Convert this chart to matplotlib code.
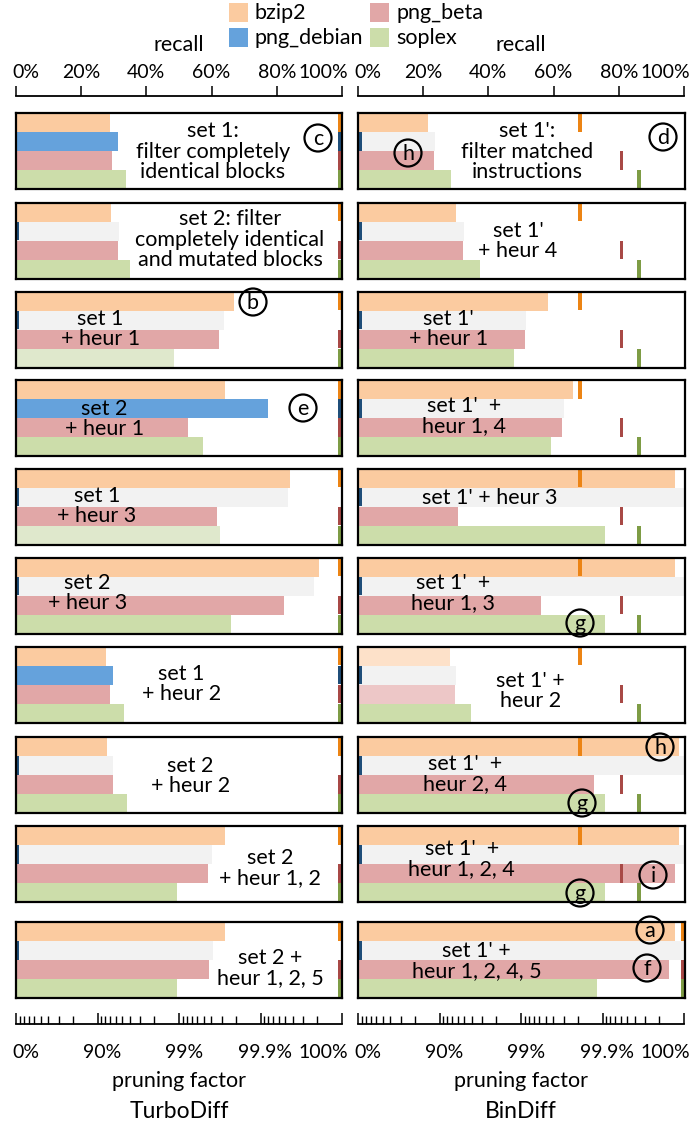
import numpy as np
import matplotlib
matplotlib.use('Agg')
import matplotlib.pyplot as plt
from matplotlib.patches import Ellipse, Rectangle
from matplotlib.transforms import blended_transform_factory

plt.rcParams['font.family'] = ['Lato', 'DejaVu Sans']
plt.rcParams['font.size'] = 15.5

programs = ['bzip2', 'png_debian', 'png_beta', 'soplex']

# ---- TurboDiff (left column) ----
turbo_labels = [
    "set 1:\nfilter completely\nidentical blocks",
    "set 2: filter\ncompletely identical\nand mutated blocks",
    "set 1\n+ heur 1",
    "set 2\n+ heur 1",
    "set 1\n+ heur 3",
    "set 2\n+ heur 3",
    "set 1\n+ heur 2",
    "set 2\n+ heur 2",
    "set 2\n+ heur 1, 2",
    "set 2 +\nheur 1, 2, 5",
]
# recall in %, order: bzip2, png_debian, png_beta, soplex
turbo_recall = [
    [29.0, 31.3, 29.7, 33.7],
    [29.4, 31.6, 31.3, 35.0],
    [66.9, 63.8, 62.3, 48.5],
    [64.1, 77.3, 52.8, 57.4],
    [84.0, 83.4, 61.7, 62.6],
    [92.9, 91.4, 82.2, 66.0],
    [27.6, 29.8, 28.8, 33.1],
    [27.9, 30.0, 29.8, 34.0],
    [64.1, 60.1, 58.9, 49.4],
    [64.1, 60.4, 59.2, 49.4],
]
# pruning factor in %
turbo_pruning = [
    [100, 100, 100, 100],
    [100, 0, 100, 100],
    [100, 0, 100, 100],
    [100, 100, 100, 100],
    [100, 0, 100, 100],
    [100, 0, 100, 100],
    [100, 100, 100, 100],
    [100, 0, 100, 100],
    [100, 0, 100, 100],
    [100, 0, 100, 100],
]
turbo_pale = [[], [], [3], [], [3], [], [], [], [], []]

# ---- BinDiff (right column) ----
bin_labels = [
    "set 1':\nfilter matched\ninstructions",
    "set 1'\n+ heur 4",
    "set 1'\n+ heur 1",
    "set 1'  +\nheur 1, 4",
    "set 1' + heur 3",
    "set 1'  +\nheur 1, 3",
    "set 1' +\nheur 2",
    "set 1'  +\nheur 2, 4",
    "set 1'  +\nheur 1, 2, 4",
    "set 1' +\nheur 1, 2, 4, 5",
]
bin_recall = [
    [21.5, 23.6, 23.3, 28.5],
    [30.0, 32.5, 32.2, 37.4],
    [58.2, 51.4, 51.2, 47.9],
    [66.0, 63.2, 62.6, 59.2],
    [97.2, 100.0, 30.7, 75.8],
    [97.2, 100.0, 56.1, 75.8],
    [28.2, 30.0, 29.8, 34.6],
    [98.2, 100.0, 72.4, 75.8],
    [98.2, 100.0, 97.2, 75.8],
    [97.2, 100.0, 95.4, 73.3],
]
bin_pruning = [[99.81, 0, 99.941, 99.964]] * 9 + [[100, 0, 100, 100]]
bin_pale = [[], [], [], [], [], [], [0, 2], [], [], []]

W, H = 692, 1122
fig = plt.figure(figsize=(W / 100, H / 100), dpi=100)

colors = ['#FBCBA0', '#65A2DC', '#E1A7A7', '#CCDDAA']
pale_colors = ['#FDE1C9', '#F2F2F2', '#EDC7C7', '#DFE8CC']
mark_colors = ['#EC8414', '#1F4E79', '#A84946', '#7E9C45']
tick_fs = 14


def px_axes(x, y, w, h):
    return fig.add_axes([x / W, 1 - (y + h) / H, w / W, h / H])


def decades(p):
    # pruning factor (%) -> position on log scale (0 .. 1 for 0% .. 99.99%)
    if p >= 100:
        return 1.0
    return min(-np.log10(1 - p / 100.0) / 4.0, 1.0)


def draw_panel(ax, recall, pruning, pale, label, lx, ly):
    ys = [3, 2, 1, 0]
    mw = 0.011
    for k in range(4):
        c = colors[k]
        if pruning[k] == 0:
            c = '#F2F2F2'
        elif k in pale:
            c = pale_colors[k]
        ax.barh(ys[k], recall[k] / 100.0, height=1.0, color=c, zorder=1)
        pos = decades(pruning[k])
        left = min(max(pos - mw / 2, 0), 1 - mw)
        ax.barh(ys[k], mw, left=left, height=0.96, color=mark_colors[k], zorder=2)
    ax.set_xlim(0, 1)
    ax.set_ylim(-0.5, 3.5)
    ax.set_xticks([])
    ax.set_yticks([])
    for s in ax.spines.values():
        s.set_linewidth(1.6)
        s.set_zorder(4)
    ax.text(lx, ly, label, transform=ax.transAxes, ha='center', va='center',
            zorder=3, linespacing=1.02)


tops = [113, 202.5, 291.5, 380, 468.5, 557.5, 646.5, 737, 826, 922]
turbo_text_pos = [(0.605, 0.49), (0.657, 0.51), (0.26, 0.51), (0.273, 0.49), (0.249, 0.51),
                  (0.22, 0.53), (0.508, 0.51), (0.535, 0.49), (0.78, 0.443), (0.78, 0.39)]
bin_text_pos = [(0.517, 0.49), (0.49, 0.49), (0.276, 0.51), (0.326, 0.53), (0.404, 0.61),
                (0.29, 0.53), (0.528, 0.415), (0.327, 0.51), (0.318, 0.57), (0.364, 0.49)]

for i in range(10):
    ax = px_axes(15.5, tops[i], 326.5, 76)
    draw_panel(ax, turbo_recall[i], turbo_pruning[i], turbo_pale[i], turbo_labels[i], *turbo_text_pos[i])
    ax = px_axes(358, tops[i], 326.5, 76)
    draw_panel(ax, bin_recall[i], bin_pruning[i], bin_pale[i], bin_labels[i], *bin_text_pos[i])

# ---- top recall axes and bottom pruning-factor axes ----
for x0, name in [(16, 'TurboDiff'), (358, 'BinDiff')]:
    ta = px_axes(x0, 96, 326, 1)
    for side in ['left', 'right', 'bottom']:
        ta.spines[side].set_visible(False)
    ta.spines['top'].set_linewidth(1.3)
    ta.set_xlim(0, 1)
    ta.set_yticks([])
    ta.xaxis.tick_top()
    ta.set_xticks(np.linspace(0, 1, 6))
    ta.set_xticklabels([])
    ta.tick_params(axis='x', direction='out', length=7.5, width=1.1)
    tr = blended_transform_factory(ta.transData, fig.transFigure)
    for k, v in enumerate(range(0, 101, 20)):
        ha = 'left' if k == 0 else ('right' if k == 5 else 'center')
        xx = -0.01 if k == 0 else (1.02 if k == 5 else v / 100)
        ta.text(xx, 1 - 73 / H, f'{v}%', transform=tr, ha=ha, va='center', fontsize=tick_fs)
    fig.text((x0 + 163) / W, 1 - 45 / H, 'recall', ha='center', va='center')

    ba = px_axes(x0, 1014, 326, 10)
    for side in ['left', 'right', 'top']:
        ba.spines[side].set_visible(False)
    ba.spines['bottom'].set_linewidth(1.3)
    ba.set_xlim(0, 1)
    ba.set_yticks([])
    ba.set_xticks(np.linspace(0, 1, 5))
    ba.set_xticklabels([])
    minor = [(d - np.log10(1 - k / 10.0)) / 4.0 for d in range(4) for k in range(1, 9)]
    ba.set_xticks(minor, minor=True)
    ba.tick_params(axis='x', which='major', direction='in', length=8, width=1.1)
    ba.tick_params(axis='x', which='minor', direction='in', length=6, width=1.0)
    tr = blended_transform_factory(ba.transData, fig.transFigure)
    for k, lab in enumerate(['0%', '90%', '99%', '99.9%', '100%']):
        ha = 'left' if k == 0 else ('right' if k == 4 else 'center')
        xx = -0.01 if k == 0 else (1.02 if k == 4 else k / 4 + 0.015)
        ba.text(xx, 1 - 1053 / H, lab, transform=tr, ha=ha, va='center', fontsize=tick_fs)
    fig.text((x0 + 163) / W, 1 - 1081 / H, 'pruning factor', ha='center', va='center')
    fig.text((x0 + 163) / W, 1 - 1112 / H, name, ha='center', va='center', fontsize=16.5)

# ---- legend (2 x 2 grid of colour squares) ----
legend_pos = [(229, 3), (229, 28), (370, 3), (370, 28)]
for (lx, ly), c, p in zip(legend_pos, colors, programs):
    fig.add_artist(Rectangle((lx / W, 1 - (ly + 19) / H), 19 / W, 19 / H,
                             transform=fig.transFigure, facecolor=c, edgecolor='none'))
    fig.text((lx + 26) / W, 1 - (ly + 10) / H, p, ha='left', va='center')

# ---- circled annotations ----
marks = [(318, 138, 'c'), (663, 137, 'd'), (408, 153, 'h'), (253, 302, 'b'), (303, 408, 'e'),
         (580, 623, 'g'), (660, 747, 'h'), (582, 803, 'g'), (653, 875, 'i'), (580, 893, 'g'),
         (650, 930, 'a'), (647, 968, 'f')]
r = 13.5
for x, y, letter in marks:
    fig.add_artist(Ellipse((x / W, 1 - y / H), 2 * r / W, 2 * r / H, transform=fig.transFigure,
                           fill=False, ec='black', lw=1.6, zorder=10))
    fig.text(x / W, 1 - (y + 1) / H, letter, ha='center', va='center', zorder=11)

fig.savefig('out.png', dpi=100)
